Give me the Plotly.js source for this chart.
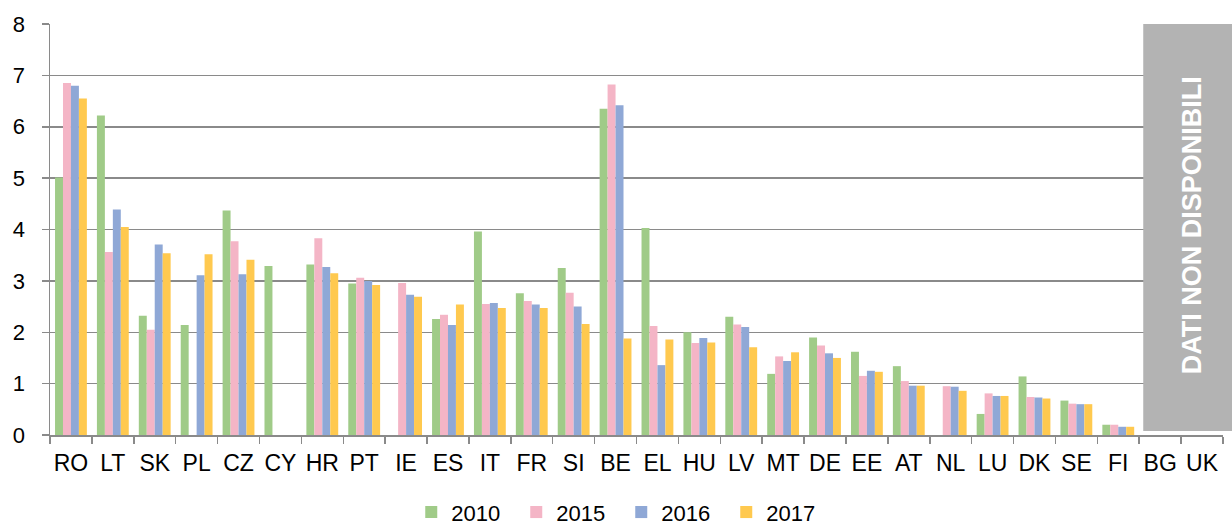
<!DOCTYPE html>
<html>
<head>
<meta charset="utf-8">
<script src="https://cdn.plot.ly/plotly-3.0.1.min.js"></script>
<style>html,body{margin:0;padding:0;background:#fff;}#chart{width:1232px;height:527px;}</style>
</head>
<body>
<div id="chart"></div>
<script>
const countries = ["RO","LT","SK","PL","CZ","CY","HR","PT","IE","ES","IT","FR","SI","BE","EL","HU","LV","MT","DE","EE","AT","NL","LU","DK","SE","FI","BG","UK"];
const v2010 = [5.01,6.22,2.32,2.14,4.37,3.29,3.32,2.95,null,2.26,3.96,2.76,3.25,6.35,4.03,2.00,2.30,1.19,1.90,1.62,1.34,null,0.41,1.14,0.67,0.20,null,null];
const v2015 = [6.85,3.56,2.05,null,3.77,null,3.83,3.06,2.96,2.34,2.55,2.61,2.77,6.82,2.12,1.79,2.15,1.53,1.74,1.15,1.05,0.95,0.81,0.74,0.61,0.20,null,null];
const v2016 = [6.80,4.39,3.71,3.11,3.13,null,3.27,3.00,2.73,2.14,2.57,2.54,2.50,6.42,1.36,1.89,2.10,1.44,1.59,1.25,0.96,0.94,0.76,0.73,0.60,0.16,null,null];
const v2017 = [6.55,4.05,3.54,3.52,3.41,null,3.15,2.92,2.69,2.54,2.47,2.47,2.16,1.88,1.86,1.80,1.71,1.61,1.50,1.23,0.96,0.86,0.76,0.71,0.60,0.16,null,null];
const seriesNames = ["2010","2015","2016","2017"];
const seriesColors = ["#A0CB88","#F4B5C6","#8FA8D6","#FFC94F"];
const seriesValues = [v2010,v2015,v2016,v2017];
const naText = "DATI NON DISPONIBILI";

const traces = seriesValues.map((vals,i)=>({
  type:"bar", name:seriesNames[i], x:countries, y:vals,
  marker:{color:seriesColors[i], line:{width:0}}
}));

const layout = {
  width:1232, height:527,
  margin:{l:50, r:9, t:24, b:92, autoexpand:false},
  paper_bgcolor:"#fff", plot_bgcolor:"#fff",
  font:{family:"Liberation Sans, Arial, sans-serif", color:"#000", size:23},
  barmode:"group", bargap:0.24, bargroupgap:0,
  showlegend:true,
  legend:{orientation:"h", x:0.487, xanchor:"center", y:-0.188, yanchor:"middle",
          font:{size:22}, itemwidth:30, entrywidth:60, entrywidthmode:"pixels", tracegroupgap:0},
  xaxis:{type:"category", tickson:"boundaries", ticks:"outside", ticklen:7, tickwidth:1.5, tickcolor:"#8a8a8a",
         showline:true, linecolor:"#8a8a8a", linewidth:1.5, showgrid:false, automargin:false,
         tickfont:{size:23}, tickangle:0, ticklabelstandoff:7, fixedrange:true},
  yaxis:{range:[0,8], dtick:1, tick0:0, ticks:"outside", ticklen:7, tickwidth:1.5, tickcolor:"#8a8a8a",
         showline:true, linecolor:"#8a8a8a", linewidth:1.5, automargin:false,
         showgrid:true, gridcolor:"#8a8a8a", gridwidth:1.5, zeroline:false,
         tickfont:{size:22}, ticklabelstandoff:12, fixedrange:true},
  shapes:[{type:"rect", xref:"paper", yref:"paper", x0:0.932, x1:1.0077, y0:0.0097, y1:1.0,
           fillcolor:"#B3B3B3", line:{width:0}, layer:"above"}],
  annotations:[{xref:"paper", yref:"paper", x:0.9735, y:0.51, text:"<b>"+naText+"</b>", showarrow:false,
                textangle:-90, font:{size:27, color:"#ffffff"}, xanchor:"center", yanchor:"middle"}]
};

Plotly.newPlot("chart", traces, layout, {displayModeBar:false, staticPlot:true});
</script>
</body>
</html>
